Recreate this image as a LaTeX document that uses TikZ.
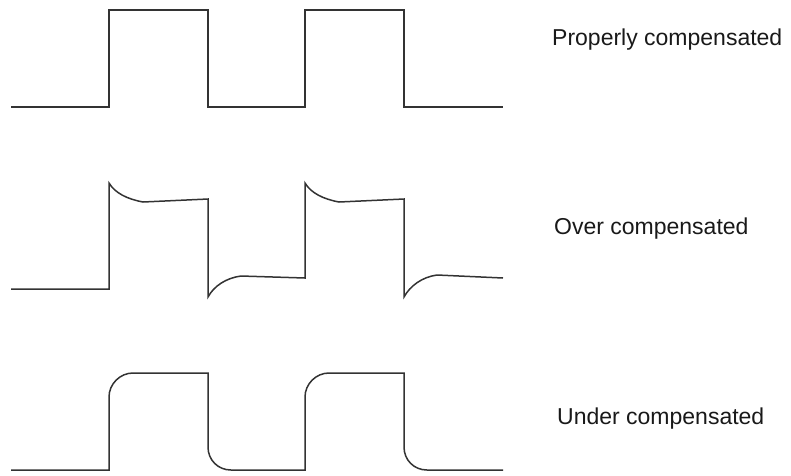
\documentclass[tikz,border=0pt]{standalone}
\usepackage{fontspec}
\setmainfont{Liberation Sans}
\usepackage{xcolor}
\usepackage{tikz}
\usetikzlibrary{positioning,calc}

\begin{document}
\begin{tikzpicture}[
            x=1pt, y=-1pt,
            every node/.style={font=\fontsize{23pt}{27pt}\selectfont, inner sep=0pt},
            lbl/.style={anchor=base west, text=black!90},
            wave/.style={line width=1.5pt, draw=black!80, line join=miter},
        ]
            \useasboundingbox (0,0) rectangle (791,475);

            % properly compensated
            \draw[wave] (11,107) -- (109,107) -- (109,10) -- (208,10) -- (208,107)
                -- (305,107) -- (305,10) -- (404,10) -- (404,107) -- (503,107);
            \node[lbl] (proper) at (552,45) {Properly compensated};

            % over compensated
            \draw[wave] (11,289) -- (109,289) -- (109,183)
                .. controls (115,193) and (127,199) .. (143,202) -- (208,199) -- (208,297)
                .. controls (214,286) and (226,278) .. (241,276) -- (305,278) -- (305,183)
                .. controls (311,193) and (323,199) .. (339,202) -- (404,199) -- (404,297)
                .. controls (410,286) and (422,277) .. (437,275) -- (503,278);
            \node[lbl] (over) at (554,234) {Over compensated};

            % under compensated
            \draw[wave] (11,470) -- (109,470) -- (109,397)
                .. controls (109,384) and (120,373) .. (133,373) -- (208,373) -- (208,447)
                .. controls (208,460) and (218,470) .. (231,470) -- (305,470) -- (305,397)
                .. controls (305,384) and (316,373) .. (329,373) -- (404,373) -- (404,447)
                .. controls (404,460) and (414,470) .. (427,470) -- (503,470);
            \node[lbl] (under) at (557,424) {Under compensated};
\end{tikzpicture}
\end{document}
